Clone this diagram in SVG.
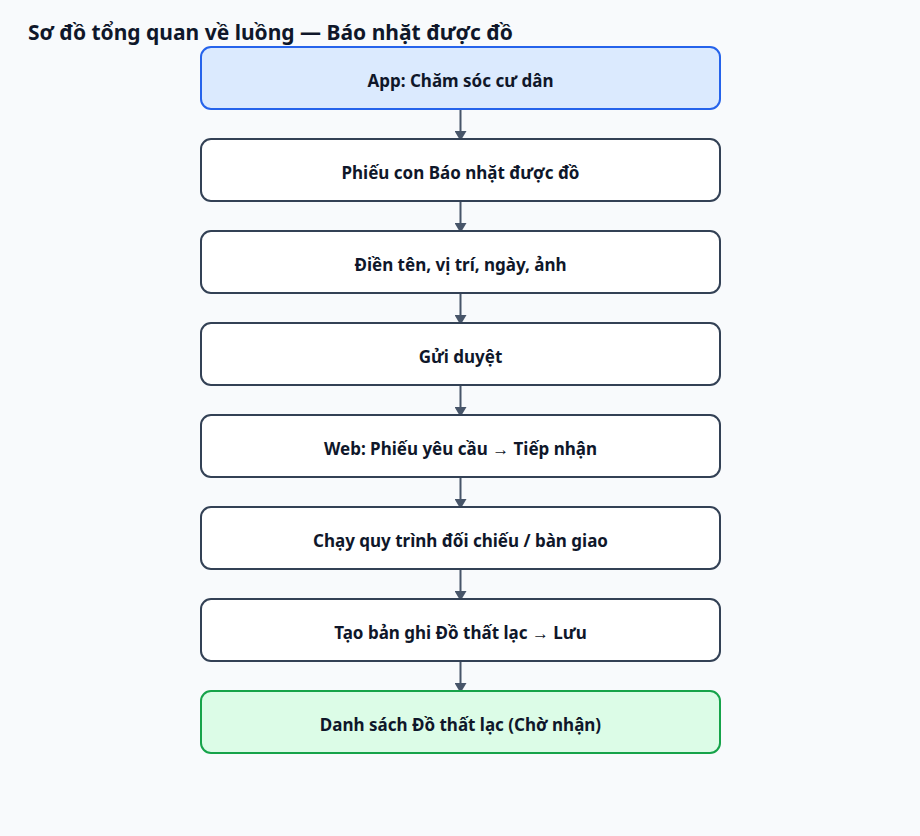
<svg xmlns="http://www.w3.org/2000/svg" width="920" height="836" viewBox="0 0 920 836">
<style>
text{font-family:"Noto Sans","Open Sans","Liberation Sans",sans-serif;font-weight:700;fill:#0f172a}
.t{font-size:21px}
.l{font-size:17px;text-anchor:middle;dominant-baseline:central}
.n{fill:#ffffff;stroke:#334155;stroke-width:2}
.s{fill:#dbeafe;stroke:#2563eb}
.e{fill:#dcfce7;stroke:#16a34a}
.c{stroke:#475569;stroke-width:2;fill:none}
</style>
<defs>
<marker id="a" viewBox="0 0 10 12" refX="9" refY="6" markerWidth="10" markerHeight="12" markerUnits="userSpaceOnUse" orient="auto">
<path d="M0,0L10,6L0,12z" fill="#475569"/>
</marker>
</defs>
<rect width="920" height="836" fill="#f8fafc"/>
<text class="t" x="28" y="40">Sơ đồ tổng quan về luồng — Báo nhặt được đồ</text>
<g id="connectors">
<line class="c" x1="460.5" y1="110" x2="460.5" y2="140" marker-end="url(#a)"/>
<line class="c" x1="460.5" y1="202" x2="460.5" y2="232" marker-end="url(#a)"/>
<line class="c" x1="460.5" y1="294" x2="460.5" y2="324" marker-end="url(#a)"/>
<line class="c" x1="460.5" y1="386" x2="460.5" y2="416" marker-end="url(#a)"/>
<line class="c" x1="460.5" y1="478" x2="460.5" y2="508" marker-end="url(#a)"/>
<line class="c" x1="460.5" y1="570" x2="460.5" y2="600" marker-end="url(#a)"/>
<line class="c" x1="460.5" y1="662" x2="460.5" y2="692" marker-end="url(#a)"/>
</g>
<g id="n1"><rect class="n s" x="201" y="47" width="519" height="62" rx="10"/><text class="l" x="460.5" y="80">App: Chăm sóc cư dân</text></g>
<g id="n2"><rect class="n" x="201" y="139" width="519" height="62" rx="10"/><text class="l" x="460.5" y="172">Phiếu con Báo nhặt được đồ</text></g>
<g id="n3"><rect class="n" x="201" y="231" width="519" height="62" rx="10"/><text class="l" x="460.5" y="264">Điền tên, vị trí, ngày, ảnh</text></g>
<g id="n4"><rect class="n" x="201" y="323" width="519" height="62" rx="10"/><text class="l" x="460.5" y="356">Gửi duyệt</text></g>
<g id="n5"><rect class="n" x="201" y="415" width="519" height="62" rx="10"/><text class="l" x="460.5" y="448">Web: Phiếu yêu cầu → Tiếp nhận</text></g>
<g id="n6"><rect class="n" x="201" y="507" width="519" height="62" rx="10"/><text class="l" x="460.5" y="540">Chạy quy trình đối chiếu / bàn giao</text></g>
<g id="n7"><rect class="n" x="201" y="599" width="519" height="62" rx="10"/><text class="l" x="460.5" y="632">Tạo bản ghi Đồ thất lạc → Lưu</text></g>
<g id="n8"><rect class="n e" x="201" y="691" width="519" height="62" rx="10"/><text class="l" x="460.5" y="724">Danh sách Đồ thất lạc (Chờ nhận)</text></g>
</svg>
